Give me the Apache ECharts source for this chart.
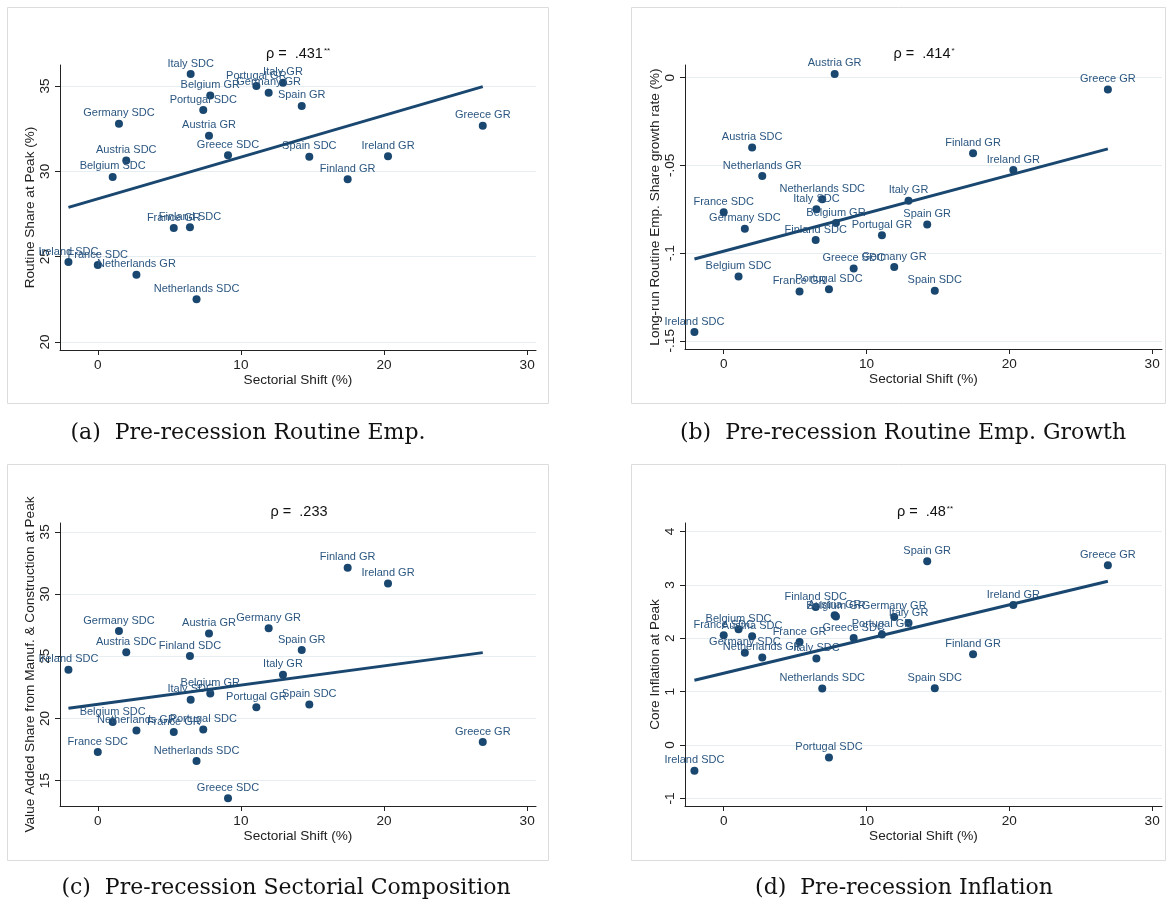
<!DOCTYPE html>
<html><head><meta charset="utf-8">
<script src="https://cdn.jsdelivr.net/npm/echarts@6/dist/echarts.min.js"></script>
<style>html,body{margin:0;padding:0;background:#fff;} #c{width:1167px;height:907px;}</style>
</head><body><div id="c"></div>
<script>
// ---- data ----
const names = ['Austria GR','Austria SDC','Belgium GR','Belgium SDC','Finland GR','Finland SDC','France GR','France SDC','Germany GR','Germany SDC','Greece GR','Greece SDC','Ireland GR','Ireland SDC','Italy GR','Italy SDC','Netherlands GR','Netherlands SDC','Portugal GR','Portugal SDC','Spain GR','Spain SDC'];
const sectorialShift = [7.77, 1.99, 7.86, 1.04, 17.46, 6.44, 5.31, 0.0, 11.94, 1.48, 26.9, 9.10, 20.28, -2.05, 12.94, 6.49, 2.70, 6.90, 11.08, 7.37, 14.25, 14.78];
const routineShare = [32.09, 30.64, 34.45, 29.67, 29.53, 26.72, 26.68, 24.51, 34.61, 32.79, 32.67, 30.94, 30.88, 24.68, 35.19, 35.70, 23.94, 22.51, 35.0, 33.59, 33.83, 30.86];
const routineGrowth = [0.0021, -0.0399, -0.0829, -0.1133, -0.0431, -0.0926, -0.1219, -0.0767, -0.108, -0.0862, -0.0068, -0.1088, -0.0527, -0.145, -0.0702, -0.075, -0.0561, -0.0693, -0.0898, -0.1207, -0.0837, -0.1215];
const vaShare = [26.82, 25.31, 22.0, 19.71, 32.12, 25.02, 18.91, 17.30, 27.24, 27.03, 18.10, 13.58, 30.84, 23.92, 23.52, 21.51, 19.02, 16.58, 20.89, 19.10, 25.50, 21.11];
const coreInflation = [2.43, 2.037, 2.41, 2.169, 1.70, 2.587, 1.931, 2.056, 2.40, 1.73, 3.368, 2.006, 2.624, -0.48, 2.287, 1.622, 1.64, 1.06, 2.069, -0.236, 3.443, 1.065];
// fitted-line endpoints
const fitA = [[-2.05, 27.89], [26.9, 34.96]];
const fitB = [[-2.05, -0.1034], [26.9, -0.0406]];
const fitC = [[-2.05, 20.81], [26.9, 25.29]];
const fitD = [[-2.05, 1.213], [26.9, 3.068]];
// ticks
const xTicks = [0, 10, 20, 30];
const yTicksA = [20, 25, 30, 35];
const yTicksB = [-0.15, -0.1, -0.05, 0];
const yTicksC = [15, 20, 25, 30, 35];
const yTicksD = [-1, 0, 1, 2, 3, 4];
const rhoVals = ['.431', '.414', '.233', '.48'];
const rhoStars = ['**', '*', '', '**'];
const yTitles = ['Routine Share at Peak (%)', 'Long-run Routine Emp. Share growth rate (%)', 'Value Added Share from Manuf. & Construction at Peak', 'Core Inflation at Peak'];
const captions = ['(a)  Pre-recession Routine Emp.', '(b)  Pre-recession Routine Emp. Growth', '(c)  Pre-recession Sectorial Composition', '(d)  Pre-recession Inflation'];

// ---- layout ----
const NAVY = '#1a476f';
const FONT = '"Liberation Sans", Arial, sans-serif';
const AX = 13.6;
const panels = [
  {grid:{left:60, top:65, width:476, height:285}, x:[-2.64,30.62], y:[19.53,36.23], yt:yTicksA, ys:routineShare, fit:fitA, fmt:v=>String(v), title:[298,54], box:[7,7,541,396], cap:[248,433]},
  {grid:{left:685, top:65, width:477, height:284}, x:[-2.71,30.69], y:[-0.1547,0.0072], yt:yTicksB, ys:routineGrowth, fit:fitB, fmt:v=>v===0?'0':String(v).replace('0.','.'), title:[924,54], box:[631,7,534,396], cap:[903,433]},
  {grid:{left:60, top:523, width:476, height:283}, x:[-2.64,30.62], y:[12.96,35.71], yt:yTicksC, ys:vaShare, fit:fitC, fmt:v=>String(v), title:[299,512], box:[7,464,541,396], cap:[286,888]},
  {grid:{left:685, top:523, width:477, height:283}, x:[-2.71,30.69], y:[-1.143,4.161], yt:yTicksD, ys:coreInflation, fit:fitD, fmt:v=>String(v), title:[925,512], box:[631,464,534,396], cap:[904,888]}
];

const grid = [], xAxis = [], yAxis = [], series = [], graphic = [];
panels.forEach((p, i) => {
  grid.push(Object.assign({containLabel:false}, p.grid));
  xAxis.push({
    gridIndex:i, type:'value', min:p.x[0], max:p.x[1],
    axisLine:{show:true, onZero:false, lineStyle:{color:'#222', width:1}},
    axisTick:{show:true, length:5, customValues:xTicks, lineStyle:{color:'#222'}},
    axisLabel:{customValues:xTicks, fontSize:AX, color:'#222', margin:8, fontFamily:FONT},
    splitLine:{show:false},
    name:'Sectorial Shift (%)', nameLocation:'middle', nameGap:22,
    nameTextStyle:{fontSize:AX, color:'#222', fontFamily:FONT}
  });
  yAxis.push({
    gridIndex:i, type:'value', min:p.y[0], max:p.y[1],
    axisLine:{show:true, onZero:false, lineStyle:{color:'#222', width:1}},
    axisTick:{show:true, length:5, customValues:p.yt, lineStyle:{color:'#222'}},
    axisLabel:{customValues:p.yt, rotate:90, fontSize:AX, color:'#222', margin:8, fontFamily:FONT, formatter:p.fmt},
    splitLine:{show:true, lineStyle:{color:'#e6eef1', width:1}},
    name:yTitles[i], nameLocation:'middle', nameGap:23, nameRotate:90,
    nameTextStyle:{fontSize:AX, color:'#222', fontFamily:FONT}
  });
  series.push({
    type:'scatter', xAxisIndex:i, yAxisIndex:i, symbol:'circle', symbolSize:8,
    itemStyle:{color:NAVY, opacity:1},
    data: sectorialShift.map((x, k) => [x, p.ys[k], names[k]]),
    label:{show:true, position:'top', distance:1, formatter:q=>q.data[2], fontSize:11, color:'#2b5680', fontFamily:FONT},
    emphasis:{disabled:true}, animation:false
  });
  series.push({
    type:'line', xAxisIndex:i, yAxisIndex:i, data:p.fit, showSymbol:false, symbol:'none',
    lineStyle:{color:NAVY, width:3}, emphasis:{disabled:true}, animation:false
  });
  graphic.push({type:'rect', shape:{x:p.box[0]+0.5, y:p.box[1]+0.5, width:p.box[2], height:p.box[3]}, style:{fill:'none', stroke:'#dcdcdc', lineWidth:1}, z:-1});
  graphic.push({type:'text', x:p.title[0], y:p.title[1], style:{
    text:'{m|ρ =  ' + rhoVals[i] + '}' + (rhoStars[i] ? '{s|' + rhoStars[i] + '}' : ''),
    rich:{m:{fontSize:14.5, fontFamily:FONT, fill:'#111', color:'#111'}, s:{fontSize:8, fontFamily:FONT, fill:'#111', color:'#111', verticalAlign:'top', padding:[0,0,6,1]}},
    align:'center', verticalAlign:'middle', textAlign:'center', textVerticalAlign:'middle'}});
  graphic.push({type:'text', x:p.cap[0], y:p.cap[1], style:{text:captions[i], font:'22px "DejaVu Serif", serif', fill:'#111', align:'center', verticalAlign:'middle', textAlign:'center', textVerticalAlign:'middle'}});
});

const chart = echarts.init(document.getElementById('c'), null, {renderer:'canvas'});
chart.setOption({backgroundColor:'#fff', animation:false, grid, xAxis, yAxis, series, graphic});
</script></body></html>
